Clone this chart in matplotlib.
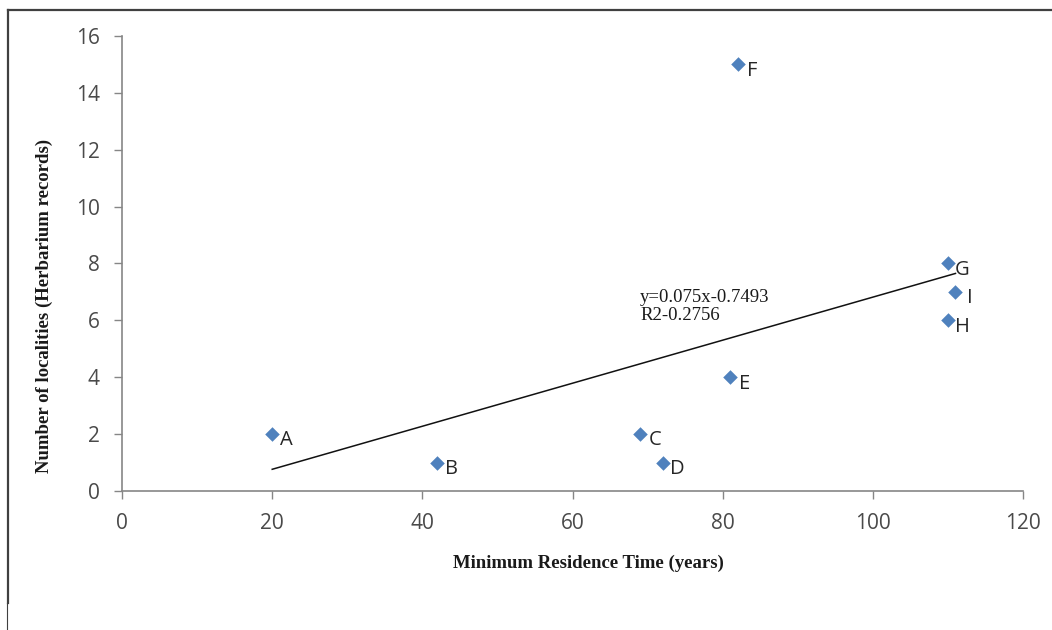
import matplotlib
matplotlib.use('Agg')
import matplotlib.pyplot as plt
from matplotlib.lines import Line2D
import numpy as np

# data
names = ['A', 'B', 'C', 'D', 'E', 'F', 'G', 'H', 'I']
residence_years = [20, 42, 69, 72, 81, 82, 110, 110, 111]
localities = [2, 1, 2, 1, 4, 15, 8, 6, 7]
x_ticks = [0, 20, 40, 60, 80, 100, 120]
y_ticks = [0, 2, 4, 6, 8, 10, 12, 14, 16]
equation = 'y=0.075x-0.7493\nR2-0.2756'

blue = '#4F81BD'
grey = '#868686'


def make_chart():
    fig = plt.figure(figsize=(10.52, 6.3), dpi=100)
    ax = fig.add_axes([0.116, 0.2206, 0.8565, 0.7223])

    ax.scatter(residence_years, localities, marker='D', s=55, color=blue,
               zorder=3, linewidths=0)
    for n, x, y in zip(names, residence_years, localities):
        ax.annotate(n, (x, y), xytext=(10.5, -4.5), textcoords='offset points',
                    ha='center', va='center', fontsize=14.5,
                    family='Open Sans', color='#262626')

    # linear trendline over the data range
    k, b = np.polyfit(residence_years, localities, 1)
    xs = np.array([min(residence_years), max(residence_years)])
    ax.plot(xs, k * xs + b, color='#111111', lw=1.1, zorder=2)
    ax.text(69, 6.5, equation, family='Liberation Serif', fontsize=13.5,
            va='center', ha='left', linespacing=1.1, color='#1a1a1a')

    ax.set_xlim(0, 120)
    ax.set_ylim(0, 16)
    ax.set_xticks(x_ticks)
    ax.set_yticks(y_ticks)
    for lab in ax.get_xticklabels() + ax.get_yticklabels():
        lab.set_family('Open Sans')
        lab.set_fontsize(15)
        lab.set_color('#4a4a4a')
    ax.tick_params(axis='x', length=6, width=1, color=grey, pad=10)
    ax.tick_params(axis='y', length=6, width=1, color=grey, pad=10)
    for s in ['top', 'right']:
        ax.spines[s].set_visible(False)
    for s in ['left', 'bottom']:
        ax.spines[s].set_color(grey)
        ax.spines[s].set_linewidth(1.2)

    ax.set_xlabel('Minimum Residence Time (years)', family='Liberation Serif',
                  fontweight='bold', fontsize=13.5, color='#1a1a1a')
    ax.xaxis.set_label_coords(0.518, -0.14)
    ax.set_ylabel('Number of localities (Herbarium records)',
                  family='Liberation Serif', fontweight='bold', fontsize=13.5,
                  color='#1a1a1a')
    ax.yaxis.set_label_coords(-0.077, 0.407)

    # frame lines left over from the original figure border
    W, H = 1052, 630
    fig.add_artist(Line2D([8 / W, 8 / W], [1 - 10 / H, 1 - 603 / H],
                          transform=fig.transFigure, color='#404040', lw=1.6))
    fig.add_artist(Line2D([7 / W, 7 / W], [1 - 603 / H, 0],
                          transform=fig.transFigure, color='#404040', lw=0.8))
    fig.add_artist(Line2D([8 / W, 1], [1 - 10 / H, 1 - 10 / H],
                          transform=fig.transFigure, color='#404040', lw=1.6))

    fig.savefig('out.png', dpi=100)


if __name__ == '__main__':
    make_chart()
